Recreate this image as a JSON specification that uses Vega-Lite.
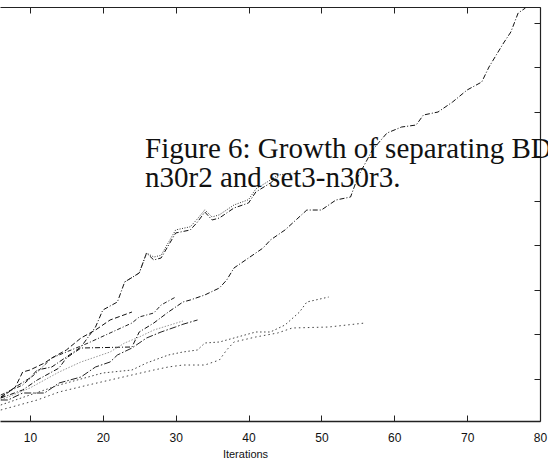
{
  "$schema": "https://vega.github.io/schema/vega-lite/v6.json",
  "width": 540,
  "height": 414,
  "autosize": {"type": "none"},
  "padding": {"left": 0, "top": 7, "right": 8, "bottom": 39},
  "background": "white",
  "config": {
    "view": {"stroke": null},
    "axis": {"grid": false, "labelFont": "Liberation Sans", "titleFont": "Liberation Sans", "labelColor": "#111", "titleColor": "#111", "domainColor": "#222", "tickColor": "#222", "domainWidth": 1.2, "tickWidth": 1}
  },
  "datasets": {
    "runs": [
      {"series": "run 1", "iteration": 6, "size": 573}, {"series": "run 1", "iteration": 9, "size": 753}, {"series": "run 1", "iteration": 11, "size": 977}, {"series": "run 1", "iteration": 14, "size": 1247}, {"series": "run 1", "iteration": 15, "size": 1472}, {"series": "run 1", "iteration": 17, "size": 1696}, {"series": "run 1", "iteration": 24, "size": 1719}, {"series": "run 1", "iteration": 25, "size": 2056}, {"series": "run 1", "iteration": 27, "size": 2258}, {"series": "run 1", "iteration": 29, "size": 2505}, {"series": "run 1", "iteration": 31, "size": 2730}, {"series": "run 1", "iteration": 32, "size": 2775}, {"series": "run 1", "iteration": 34, "size": 2888}, {"series": "run 1", "iteration": 36, "size": 3045}, {"series": "run 1", "iteration": 37, "size": 3224}, {"series": "run 1", "iteration": 38, "size": 3494}, {"series": "run 1", "iteration": 40, "size": 3719}, {"series": "run 1", "iteration": 42, "size": 3944}, {"series": "run 1", "iteration": 43, "size": 4123}, {"series": "run 1", "iteration": 45, "size": 4348}, {"series": "run 1", "iteration": 48, "size": 4797}, {"series": "run 1", "iteration": 50, "size": 4797}, {"series": "run 1", "iteration": 52, "size": 5022}, {"series": "run 1", "iteration": 54, "size": 5089}, {"series": "run 1", "iteration": 55, "size": 5539}, {"series": "run 1", "iteration": 57, "size": 6145}, {"series": "run 1", "iteration": 59, "size": 6527}, {"series": "run 1", "iteration": 61, "size": 6662}, {"series": "run 1", "iteration": 63, "size": 6707}, {"series": "run 1", "iteration": 64, "size": 6932}, {"series": "run 1", "iteration": 66, "size": 6999}, {"series": "run 1", "iteration": 68, "size": 7224}, {"series": "run 1", "iteration": 70, "size": 7494}, {"series": "run 1", "iteration": 72, "size": 7673}, {"series": "run 1", "iteration": 73, "size": 8011}, {"series": "run 1", "iteration": 75, "size": 8550}, {"series": "run 1", "iteration": 76, "size": 8797}, {"series": "run 1", "iteration": 77, "size": 9224}, {"series": "run 1", "iteration": 78, "size": 9336},

      {"series": "run 2", "iteration": 6, "size": 595}, {"series": "run 2", "iteration": 8, "size": 820}, {"series": "run 2", "iteration": 10, "size": 1022}, {"series": "run 2", "iteration": 11, "size": 1202}, {"series": "run 2", "iteration": 13, "size": 1270}, {"series": "run 2", "iteration": 15, "size": 1494}, {"series": "run 2", "iteration": 17, "size": 1719}, {"series": "run 2", "iteration": 19, "size": 2168}, {"series": "run 2", "iteration": 20, "size": 2550}, {"series": "run 2", "iteration": 22, "size": 2730}, {"series": "run 2", "iteration": 23, "size": 3179}, {"series": "run 2", "iteration": 25, "size": 3382}, {"series": "run 2", "iteration": 26, "size": 3831}, {"series": "run 2", "iteration": 27, "size": 3674}, {"series": "run 2", "iteration": 28, "size": 3719}, {"series": "run 2", "iteration": 30, "size": 4281}, {"series": "run 2", "iteration": 32, "size": 4348}, {"series": "run 2", "iteration": 33, "size": 4528}, {"series": "run 2", "iteration": 34, "size": 4752}, {"series": "run 2", "iteration": 35, "size": 4573}, {"series": "run 2", "iteration": 36, "size": 4618}, {"series": "run 2", "iteration": 38, "size": 4842}, {"series": "run 2", "iteration": 40, "size": 4955}, {"series": "run 2", "iteration": 41, "size": 5202}, {"series": "run 2", "iteration": 43, "size": 5404}, {"series": "run 2", "iteration": 44, "size": 5539},

      {"series": "run 3", "iteration": 23, "size": 3179}, {"series": "run 3", "iteration": 25, "size": 3382}, {"series": "run 3", "iteration": 26, "size": 3831}, {"series": "run 3", "iteration": 27, "size": 3740}, {"series": "run 3", "iteration": 28, "size": 3780}, {"series": "run 3", "iteration": 30, "size": 4350}, {"series": "run 3", "iteration": 32, "size": 4420}, {"series": "run 3", "iteration": 33, "size": 4600}, {"series": "run 3", "iteration": 34, "size": 4800}, {"series": "run 3", "iteration": 35, "size": 4640}, {"series": "run 3", "iteration": 36, "size": 4690}, {"series": "run 3", "iteration": 38, "size": 4910}, {"series": "run 3", "iteration": 40, "size": 5030}, {"series": "run 3", "iteration": 41, "size": 5270}, {"series": "run 3", "iteration": 43, "size": 5470}, {"series": "run 3", "iteration": 44, "size": 5580}, {"series": "run 3", "iteration": 46, "size": 5629},

      {"series": "run 4", "iteration": 6, "size": 573}, {"series": "run 4", "iteration": 8, "size": 820}, {"series": "run 4", "iteration": 9, "size": 1157}, {"series": "run 4", "iteration": 10, "size": 1202}, {"series": "run 4", "iteration": 12, "size": 1359}, {"series": "run 4", "iteration": 13, "size": 1472}, {"series": "run 4", "iteration": 15, "size": 1652}, {"series": "run 4", "iteration": 17, "size": 1921}, {"series": "run 4", "iteration": 19, "size": 2101}, {"series": "run 4", "iteration": 21, "size": 2326}, {"series": "run 4", "iteration": 24, "size": 2505},

      {"series": "run 5", "iteration": 6, "size": 640}, {"series": "run 5", "iteration": 9, "size": 865}, {"series": "run 5", "iteration": 11, "size": 1157}, {"series": "run 5", "iteration": 13, "size": 1472}, {"series": "run 5", "iteration": 15, "size": 1607}, {"series": "run 5", "iteration": 18, "size": 1809}, {"series": "run 5", "iteration": 21, "size": 2034}, {"series": "run 5", "iteration": 24, "size": 2258}, {"series": "run 5", "iteration": 25, "size": 2393}, {"series": "run 5", "iteration": 27, "size": 2483}, {"series": "run 5", "iteration": 28, "size": 2663}, {"series": "run 5", "iteration": 30, "size": 2842},

      {"series": "run 6", "iteration": 6, "size": 528}, {"series": "run 6", "iteration": 10, "size": 798}, {"series": "run 6", "iteration": 14, "size": 1157}, {"series": "run 6", "iteration": 17, "size": 1382}, {"series": "run 6", "iteration": 19, "size": 1494}, {"series": "run 6", "iteration": 21, "size": 1607}, {"series": "run 6", "iteration": 23, "size": 1809}, {"series": "run 6", "iteration": 25, "size": 1944}, {"series": "run 6", "iteration": 27, "size": 2101}, {"series": "run 6", "iteration": 31, "size": 2303},

      {"series": "run 7", "iteration": 6, "size": 528}, {"series": "run 7", "iteration": 7, "size": 528}, {"series": "run 7", "iteration": 9, "size": 685}, {"series": "run 7", "iteration": 12, "size": 685}, {"series": "run 7", "iteration": 14, "size": 910}, {"series": "run 7", "iteration": 17, "size": 1045}, {"series": "run 7", "iteration": 19, "size": 1270}, {"series": "run 7", "iteration": 21, "size": 1382}, {"series": "run 7", "iteration": 22, "size": 1539}, {"series": "run 7", "iteration": 24, "size": 1696}, {"series": "run 7", "iteration": 26, "size": 1921}, {"series": "run 7", "iteration": 28, "size": 2056}, {"series": "run 7", "iteration": 30, "size": 2170}, {"series": "run 7", "iteration": 31, "size": 2230}, {"series": "run 7", "iteration": 33, "size": 2326},

      {"series": "run 8", "iteration": 6, "size": 416}, {"series": "run 8", "iteration": 10, "size": 640}, {"series": "run 8", "iteration": 14, "size": 865}, {"series": "run 8", "iteration": 20, "size": 1135}, {"series": "run 8", "iteration": 24, "size": 1202}, {"series": "run 8", "iteration": 26, "size": 1359}, {"series": "run 8", "iteration": 29, "size": 1539}, {"series": "run 8", "iteration": 31, "size": 1607}, {"series": "run 8", "iteration": 33, "size": 1652}, {"series": "run 8", "iteration": 34, "size": 1809}, {"series": "run 8", "iteration": 36, "size": 1831}, {"series": "run 8", "iteration": 38, "size": 1921}, {"series": "run 8", "iteration": 41, "size": 2056}, {"series": "run 8", "iteration": 43, "size": 2056}, {"series": "run 8", "iteration": 45, "size": 2213}, {"series": "run 8", "iteration": 47, "size": 2505}, {"series": "run 8", "iteration": 48, "size": 2730}, {"series": "run 8", "iteration": 51, "size": 2842},

      {"series": "run 9", "iteration": 6, "size": 303}, {"series": "run 9", "iteration": 11, "size": 528}, {"series": "run 9", "iteration": 14, "size": 708}, {"series": "run 9", "iteration": 18, "size": 865}, {"series": "run 9", "iteration": 24, "size": 1090}, {"series": "run 9", "iteration": 27, "size": 1202}, {"series": "run 9", "iteration": 29, "size": 1270}, {"series": "run 9", "iteration": 31, "size": 1314}, {"series": "run 9", "iteration": 34, "size": 1314}, {"series": "run 9", "iteration": 36, "size": 1427}, {"series": "run 9", "iteration": 37, "size": 1652}, {"series": "run 9", "iteration": 38, "size": 1831}, {"series": "run 9", "iteration": 41, "size": 1944}, {"series": "run 9", "iteration": 44, "size": 2034}, {"series": "run 9", "iteration": 46, "size": 2146}, {"series": "run 9", "iteration": 51, "size": 2168}, {"series": "run 9", "iteration": 56, "size": 2258}
    ],
    "caption": [
      {"iteration": 25.8, "size": 5966, "text": "Figure 6: Growth of separating BDDs for set3-\nn30r2 and set3-n30r3."}
    ]
  },
  "layer": [
    {
      "data": {"name": "runs"},
      "mark": {"type": "line", "strokeWidth": 1, "clip": true},
      "encoding": {
        "x": {
          "field": "iteration", "type": "quantitative",
          "scale": {"domain": [5.89, 80], "nice": false, "zero": false},
          "axis": {"orient": "bottom", "values": [10, 20, 30, 40, 50, 60, 70, 80], "tickSize": -6, "labelPadding": 17, "labelFontSize": 12, "domainWidth": 1.6, "title": "Iterations", "titleFontSize": 11, "titleFontWeight": "normal", "titleX": 245, "titleY": 36, "titleBaseline": "alphabetic", "titleAlign": "center", "labelFlush": false}
        },
        "y": {
          "field": "size", "type": "quantitative",
          "scale": {"domain": [56, 9359], "nice": false, "zero": false},
          "axis": {"orient": "right", "values": [1000, 2000, 3000, 4000, 5000, 6000, 7000, 8000, 9000], "labels": false, "tickSize": -6, "title": null}
        },
        "color": {
          "field": "series", "type": "nominal", "legend": null,
          "scale": {"domain": ["run 1", "run 2", "run 3", "run 4", "run 5", "run 6", "run 7", "run 8", "run 9"],
                    "range": ["#111111", "#111111", "#333333", "#111111", "#222222", "#999999", "#222222", "#444444", "#444444"]}
        },
        "strokeDash": {
          "field": "series", "type": "nominal", "legend": null,
          "scale": {"domain": ["run 1", "run 2", "run 3", "run 4", "run 5", "run 6", "run 7", "run 8", "run 9"],
                    "range": [[5, 2, 1, 2], [5, 2, 1, 2], [1, 1.5], [5, 2.5], [4, 2, 1, 2], [1.5, 1.5], [7, 2, 1.5, 2], [1.5, 2.5], [1.5, 3]]}
        }
      }
    },
    {
      "data": {"name": "caption"},
      "mark": {"type": "text", "align": "left", "baseline": "alphabetic", "font": "Liberation Serif", "fontSize": 29, "lineBreak": "\n", "lineHeight": 29, "color": "#111"},
      "encoding": {
        "x": {"field": "iteration", "type": "quantitative", "axis": {"orient": "top", "values": [10, 20, 30, 40, 50, 60, 70, 80], "labels": false, "tickSize": -6, "title": null}},
        "y": {"field": "size", "type": "quantitative", "axis": null},
        "text": {"field": "text"}
      }
    }
  ],
  "resolve": {"axis": {"x": "independent", "y": "independent"}}
}
